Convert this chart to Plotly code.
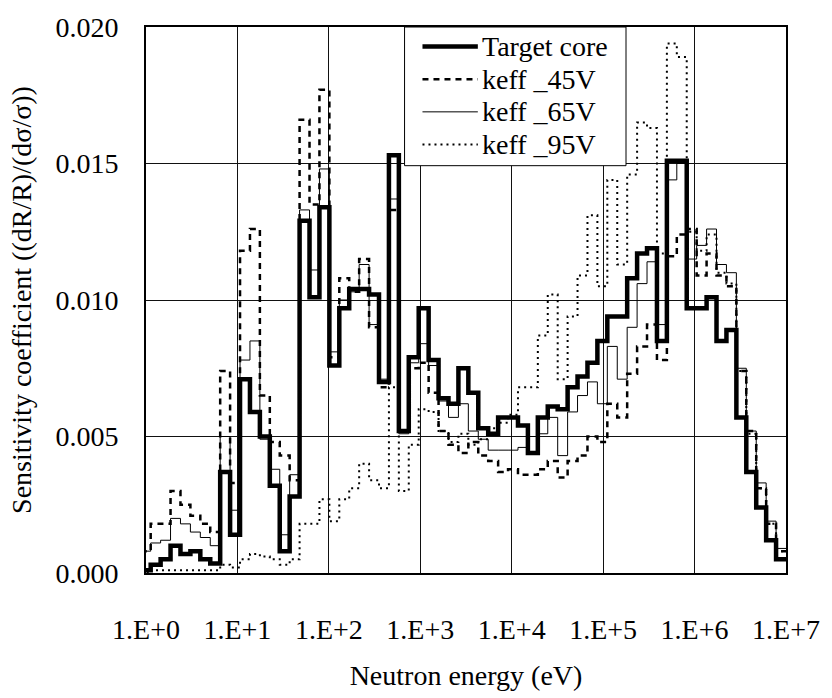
import math
import plotly.graph_objects as go

# ---- energy group structure: 70-group set with constant lethargy width 0.25 below 10 MeV ----
# (only the 65 groups that fall inside 1 eV .. 10 MeV are shown)
LETHARGY_WIDTH = 0.25
E_TOP_EV = 1.0e7
N_GROUPS_SHOWN = 65
group_edges_eV = [E_TOP_EV * math.exp(-LETHARGY_WIDTH * g) for g in range(N_GROUPS_SHOWN, -1, -1)]

# ---- sensitivity coefficients per group, ordered from low to high energy ----
target_core = [
    0.0001, 0.0003, 0.0005, 0.0010, 0.0007, 0.0008, 0.0005, 0.00035, 0.0037, 0.0014,
    0.0071, 0.0059, 0.0050, 0.0032, 0.0008, 0.0028, 0.0129, 0.0101, 0.0134, 0.0076,
    0.0097, 0.0104, 0.0104, 0.0102, 0.0070, 0.0153, 0.0052, 0.0079, 0.0097, 0.0078,
    0.0064, 0.0062, 0.0075, 0.0066, 0.0053, 0.0051, 0.0057, 0.0057, 0.0054, 0.0044,
    0.0057, 0.0061, 0.0060, 0.0068, 0.0072, 0.0077, 0.0085, 0.0094, 0.0094, 0.0108,
    0.0117, 0.0119, 0.0085, 0.0151, 0.0151, 0.0097, 0.0097, 0.0101, 0.0085, 0.0089,
    0.0057, 0.0037, 0.0024, 0.0012, 0.0005,
]
keff_45V = [
    0.0008, 0.0018, 0.0018, 0.0030, 0.0025, 0.0021, 0.0018, 0.0015, 0.0074, 0.0033,
    0.0118, 0.0126, 0.0065, 0.0048, 0.0043, 0.0034, 0.0166, 0.0135, 0.0177, 0.0079,
    0.0108, 0.0103, 0.0115, 0.0090, 0.0068, 0.0133, 0.0052, 0.0075, 0.0077, 0.0066,
    0.0052, 0.0047, 0.0044, 0.0048, 0.0043, 0.0041, 0.0037, 0.0038, 0.0036, 0.0036,
    0.0038, 0.0041, 0.0035, 0.0041, 0.0043, 0.0050, 0.0048, 0.0062, 0.0057, 0.0073,
    0.0083, 0.0091, 0.0078, 0.0116, 0.0124, 0.0126, 0.0109, 0.0117, 0.0109, 0.0105,
    0.0074, 0.0052, 0.0031, 0.0018, 0.0008,
]
keff_65V = [
    0.0008, 0.0011, 0.0012, 0.0020, 0.0018, 0.0015, 0.0013, 0.0010, 0.0050, 0.0023,
    0.0078, 0.0085, 0.0049, 0.0038, 0.0014, 0.0036, 0.0133, 0.0111, 0.0148, 0.0081,
    0.0100, 0.0103, 0.0113, 0.0091, 0.0071, 0.0137, 0.0051, 0.0077, 0.0084, 0.0076,
    0.0063, 0.0057, 0.0062, 0.0052, 0.0049, 0.0045, 0.0045, 0.0045, 0.0046, 0.0050,
    0.0051, 0.0057, 0.0043, 0.0059, 0.0065, 0.0070, 0.0062, 0.0083, 0.0071, 0.0090,
    0.0106, 0.0114, 0.0091, 0.0144, 0.0150, 0.0115, 0.0120, 0.0126, 0.0113, 0.0110,
    0.0075, 0.0052, 0.0033, 0.0019, 0.0009,
]
keff_95V = [
    0.0000, 0.0001, 0.0001, 0.0001, 0.0001, 0.0001, 0.0001, 0.0001, 0.0003, 0.0002,
    0.0005, 0.0007, 0.0006, 0.0005, 0.0003, 0.0005, 0.0018, 0.0018, 0.0027, 0.0019,
    0.0027, 0.0031, 0.0040, 0.0034, 0.0031, 0.0068, 0.0030, 0.0047, 0.0060, 0.0059,
    0.0052, 0.0048, 0.0051, 0.0047, 0.0049, 0.0053, 0.0055, 0.0058, 0.0068, 0.0068,
    0.0087, 0.0102, 0.0071, 0.0094, 0.0109, 0.0131, 0.0105, 0.0144, 0.0113, 0.0146,
    0.0165, 0.0163, 0.0117, 0.0194, 0.0189, 0.0125, 0.0118, 0.0124, 0.0110, 0.0106,
    0.0074, 0.0051, 0.0031, 0.0018, 0.0008,
]

series_names = ["Target core", "keff _45V", "keff _65V", "keff _95V"]
x_tick_vals = [1e0, 1e1, 1e2, 1e3, 1e4, 1e5, 1e6, 1e7]
x_tick_text = ["1.E+0", "1.E+1", "1.E+2", "1.E+3", "1.E+4", "1.E+5", "1.E+6", "1.E+7"]
y_tick_vals = [0.000, 0.005, 0.010, 0.015, 0.020]

styles = [
    dict(color="black", width=4.5, dash="solid"),
    dict(color="black", width=2.5, dash="6px,5px"),
    dict(color="black", width=1.0, dash="solid"),
    dict(color="black", width=2.0, dash="2px,4px"),
]

FONT = "Liberation Serif, Times New Roman, serif"
FONT_SIZE = 28

fig = go.Figure()
for name, vals, st in zip(series_names, [target_core, keff_45V, keff_65V, keff_95V], styles):
    fig.add_trace(go.Scatter(
        x=group_edges_eV,
        y=vals + [vals[-1]],
        mode="lines",
        line=dict(shape="hv", **st),
        name=name,
        showlegend=False,
        hoverinfo="skip",
    ))

# ---- legend box drawn in paper coordinates (Excel-style: long line samples, tight rows) ----
LEG_X0, LEG_X1 = 0.404, 0.750
LEG_Y0, LEG_Y1 = 0.746, 1.000
SAMPLE_X0, SAMPLE_X1 = 0.432, 0.5185
TEXT_X = 0.5225
ROW_Y = [0.9643, 0.9045, 0.8446, 0.7848]

shapes = [dict(type="rect", xref="paper", yref="paper", x0=LEG_X0, x1=LEG_X1, y0=LEG_Y0, y1=LEG_Y1,
               line=dict(color="black", width=1), fillcolor="white", layer="above")]
annotations = []
for name, st, ry in zip(series_names, styles, ROW_Y):
    shapes.append(dict(type="line", xref="paper", yref="paper", x0=SAMPLE_X0, x1=SAMPLE_X1, y0=ry, y1=ry,
                       line=dict(color=st["color"], width=st["width"], dash=st["dash"]), layer="above"))
    annotations.append(dict(text=name, xref="paper", yref="paper", x=TEXT_X, y=ry,
                            xanchor="left", yanchor="middle", showarrow=False,
                            font=dict(family=FONT, size=FONT_SIZE, color="black")))

fig.update_layout(
    width=832, height=698,
    margin=dict(l=146, r=38, t=19, b=119),
    paper_bgcolor="white", plot_bgcolor="white",
    font=dict(family=FONT, size=FONT_SIZE, color="black"),
    showlegend=False,
    shapes=shapes,
    annotations=annotations,
)
fig.update_xaxes(
    type="log", range=[0, 7],
    tickvals=x_tick_vals, ticktext=x_tick_text,
    showgrid=True, gridcolor="#111111", gridwidth=1,
    showline=True, linecolor="black", linewidth=2, mirror=True,
    ticks="", ticklabelstandoff=30,
    zeroline=False,
    title=dict(text="Neutron energy (eV)", standoff=22, font=dict(family=FONT, size=FONT_SIZE)),
)
fig.update_yaxes(
    range=[0, 0.020], tickvals=y_tick_vals, tickformat=".3f",
    showgrid=True, gridcolor="#111111", gridwidth=1,
    showline=True, linecolor="black", linewidth=2, mirror=True,
    ticks="", ticklabelstandoff=20,
    zeroline=False,
    title=dict(text="Sensitivity coefficient ((dR/R)/(dσ/σ))", standoff=16, font=dict(family=FONT, size=FONT_SIZE)),
)

fig.write_html("out.html")
